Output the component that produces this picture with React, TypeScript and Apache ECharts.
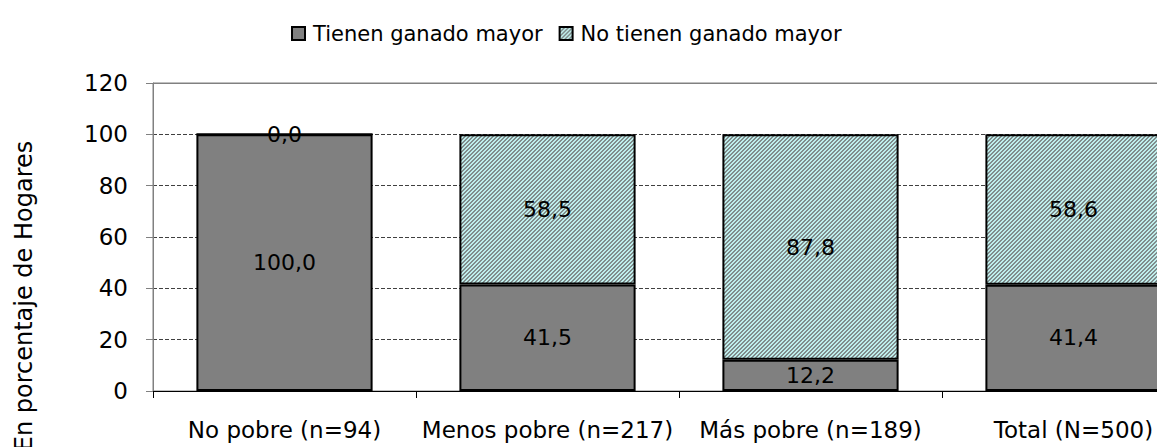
import React, { useEffect, useRef } from "react";
import * as echarts from "echarts";

const categories = ["No pobre (n=94)", "Menos pobre (n=217)", "Más pobre (n=189)", "Total (N=500)"];
const tienenGanado = [100.0, 41.5, 12.2, 41.4];
const noTienenGanado = [0.0, 58.5, 87.8, 58.6];
const seriesNames = ["Tienen ganado mayor", "No tienen ganado mayor"];
const yTicks = { min: 0, max: 120, interval: 20 };
const yTitle = "En porcentaje de Hogares";

const FONT = "DejaVu Sans";

function makeHatch(): HTMLCanvasElement {
  const c = document.createElement("canvas");
  c.width = 4;
  c.height = 4;
  const ctx = c.getContext("2d")!;
  const img = ctx.createImageData(4, 4);
  for (let y = 0; y < 4; y++) {
    for (let x = 0; x < 4; x++) {
      const dark = (x + y) % 4 < 2;
      const i = (y * 4 + x) * 4;
      if (dark) {
        img.data[i] = 0x80; img.data[i + 1] = 0x8c; img.data[i + 2] = 0x8c;
      } else {
        img.data[i] = 0xbf; img.data[i + 1] = 0xee; img.data[i + 2] = 0xec;
      }
      img.data[i + 3] = 255;
    }
  }
  ctx.putImageData(img, 0, 0);
  return c;
}

export default function App() {
  const ref = useRef<HTMLDivElement>(null);
  useEffect(() => {
    if (!ref.current) return;
    const chart = echarts.init(ref.current, null, { renderer: "svg" });
    const hatch = makeHatch();
    const fmt = (p: any) => Number(p.value).toFixed(1).replace(".", ",");
    const labelStyle = {
      show: true,
      position: "inside" as const,
      formatter: fmt,
      color: "#000",
      fontFamily: FONT,
      fontSize: 22,
    };
    chart.setOption({
      animation: false,
      backgroundColor: "#fff",
      textStyle: { fontFamily: FONT },
      legend: {
        left: 286,
        top: 18,
        icon: "rect",
        itemWidth: 13,
        itemHeight: 13,
        itemGap: 16,
        textStyle: { fontFamily: FONT, fontSize: 21, color: "#000", padding: [0, 0, 0, 3] },
        data: seriesNames,
      },
      grid: {
        left: 153,
        right: -48,
        top: 83,
        bottom: 56,
        outerBoundsMode: "none",
        containLabel: false,
        show: true,
        borderColor: "#808080",
        borderWidth: 1,
        backgroundColor: "transparent",
      },
      xAxis: [
        {
          type: "category",
          data: categories,
          axisLine: { lineStyle: { color: "#000", width: 1 } },
          axisTick: { show: true, length: 7, lineStyle: { color: "#000" } },
          axisLabel: { interval: 0, fontFamily: FONT, fontSize: 23, color: "#000", margin: 27 },
        },
        {
          type: "category",
          data: categories,
          position: "top",
          axisLine: { show: true, lineStyle: { color: "#808080", width: 1 } },
          axisTick: { show: false },
          axisLabel: { show: false },
          splitLine: { show: false },
        },
      ],
      yAxis: {
        type: "value",
        min: yTicks.min,
        max: yTicks.max,
        interval: yTicks.interval,
        axisLine: { show: true, lineStyle: { color: "#808080", width: 1 } },
        axisTick: { show: true, length: 7, lineStyle: { color: "#808080" } },
        axisLabel: { fontFamily: FONT, fontSize: 23, color: "#000", margin: 25 },
        splitLine: { show: true, lineStyle: { color: "#404040", type: [4, 2], width: 1 } },
      },
      graphic: [
        {
          type: "text",
          x: 24,
          y: 296,
          rotation: Math.PI / 2,
          style: {
            text: yTitle,
            fontFamily: FONT,
            fontSize: 24,
            fill: "#000",
            align: "center",
            verticalAlign: "middle",
          },
        },
      ],
      series: [
        {
          name: seriesNames[0],
          type: "bar",
          stack: "total",
          xAxisIndex: 0,
          barCategoryGap: "33%",
          data: tienenGanado,
          itemStyle: { color: "#808080", borderColor: "#000", borderWidth: 2 },
          label: labelStyle,
        },
        {
          name: seriesNames[1],
          type: "bar",
          stack: "total",
          xAxisIndex: 0,
          barCategoryGap: "33%",
          data: noTienenGanado,
          itemStyle: {
            color: { image: hatch, repeat: "repeat" } as any,
            borderColor: "#000",
            borderWidth: 2,
          },
          label: labelStyle,
        },
      ],
    });
    return () => chart.dispose();
  }, []);
  return (
    <div
      ref={ref}
      style={{ position: "absolute", left: 0, top: 0, width: 1157, height: 447 }}
    />
  );
}
